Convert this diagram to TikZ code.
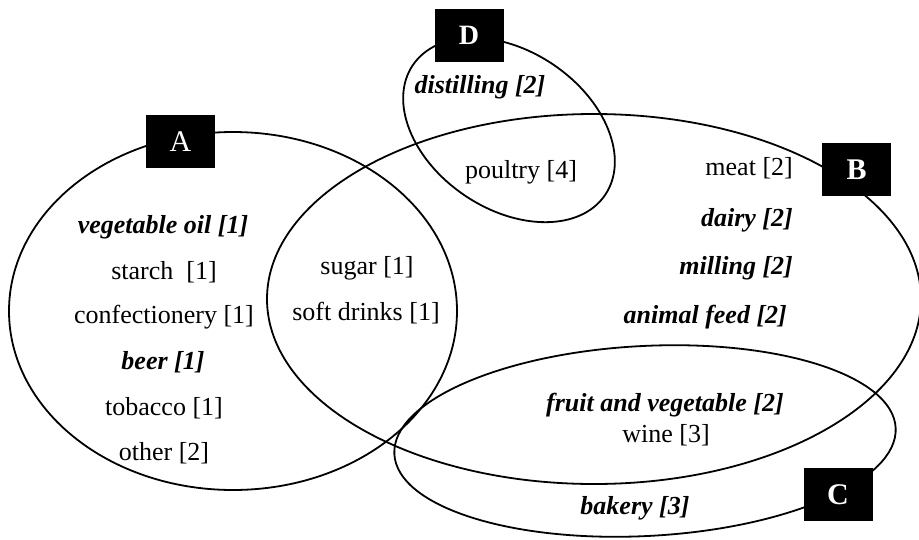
\documentclass[tikz,border=0pt]{standalone}
\usepackage{fontspec}
\setmainfont{Liberation Serif}
\begin{document}
\begin{tikzpicture}[x=1pt,y=-1pt,
  set/.style={line width=1.8pt},
  item/.style={inner sep=0pt,font=\fontsize{26}{30}\selectfont},
  bitem/.style={inner sep=0pt,font=\fontsize{26}{30}\selectfont\bfseries\itshape},
  tag/.style={fill=black,text=white,inner sep=0pt,minimum width=69pt,minimum height=53pt,font=\fontsize{30}{34}\selectfont\bfseries}]
\useasboundingbox (0,0) rectangle (919,539);

% the four sets
\draw[set] (233,311) ellipse [x radius=224, y radius=179];
\draw[set] (594,299) ellipse [x radius=327, y radius=185];
\draw[set,rotate around={3:(645,441)}] (645,441) ellipse [x radius=251, y radius=95];
\draw[set,rotate around={-34:(509,130)}] (509,130) ellipse [x radius=116, y radius=79];

% set labels
\node[tag,font=\fontsize{30}{34}\selectfont] (boxA) at (180.5,141.5) {A};
\node[tag] (boxB) at (856.5,169.5) {B};
\node[tag] (boxC) at (838,494.5) {C};
\node[tag,font=\fontsize{28}{32}\selectfont\bfseries] (boxD) at (469,35.5) {D};

% set A only
\node[bitem] (vegoil) at (163,227) {vegetable oil [1]};
\node[item]  (starch) at (164,272) {starch~~[1]};
\node[item]  (confec) at (164,317) {confectionery [1]};
\node[bitem] (beer)   at (163,362) {beer [1]};
\node[item]  (tobac)  at (164,408) {tobacco [1]};
\node[item]  (other)  at (164,453) {other [2]};

% A and B
\node[item] (sugar) at (367,268) {sugar [1]};
\node[item] (soft)  at (366,313) {soft drinks [1]};

% D
\node[bitem] (distil)  at (480,87)  {distilling [2]};
\node[item]  (poultry) at (521,172) {poultry [4]};

% B only
\node[item,anchor=east]  (meat)   at (793,168) {meat [2]};
\node[bitem,anchor=east] (dairy)  at (793,220) {dairy [2]};
\node[bitem,anchor=east] (mill)   at (793,268) {milling [2]};
\node[bitem,anchor=east] (feed)   at (787,317) {animal feed [2]};

% B and C
\node[bitem] (fruit) at (665,405) {fruit and vegetable [2]};
\node[item]  (wine)  at (666,435) {wine [3]};

% C only
\node[bitem] (bakery) at (635,508) {bakery [3]};
\end{tikzpicture}
\end{document}
